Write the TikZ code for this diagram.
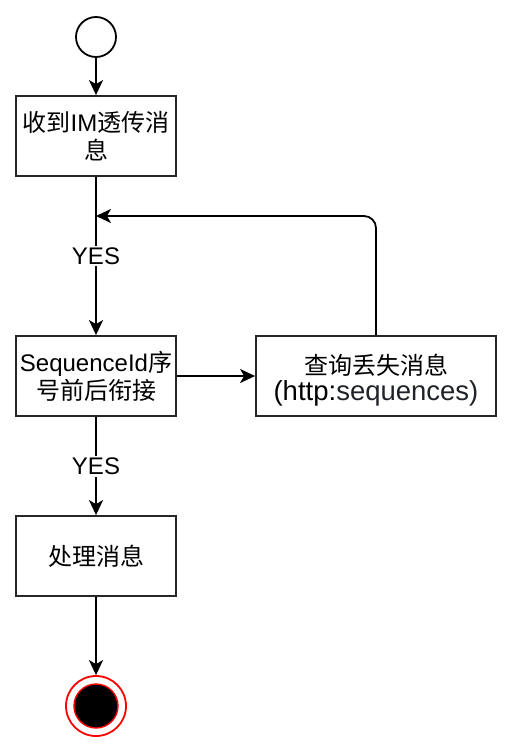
\documentclass[tikz,border=0pt]{standalone}
\usepackage{fontspec}
\setmainfont{Liberation Sans}
\newfontfamily\cjk{Noto Sans CJK SC}
\usetikzlibrary{arrows.meta}
\definecolor{seqgray}{HTML}{1F2329}
\begin{document}
\begin{tikzpicture}[x=1pt,y=-1pt,
  txt/.style={font=\fontsize{24}{28}\selectfont},
  box/.style={txt, draw=black!85, line width=1.8pt, minimum width=160pt, minimum height=80pt, inner sep=0pt, align=center},
  arr/.style={line width=1.8pt, -{Stealth[length=15pt,width=14pt,inset=4pt]}},
  lbl/.style={txt, fill=white, inner sep=2pt}]
\useasboundingbox (0,0) rectangle (514,754);
\node[circle, draw, line width=1.8pt, minimum size=40pt, inner sep=0pt] (start) at (96,37) {};
\node[box] (b1) at (96,136) {{\cjk 收到}IM{\cjk 透传消}\\{\cjk 息}};
\node[box] (b2) at (96,376) {SequenceId{\cjk 序}\\{\cjk 号前后衔接}};
\node[box, minimum width=240pt] (b3) at (376,376) {\rule{0pt}{28pt}{\cjk 查询丢失消息}\\[-2pt]{\fontsize{27.5}{30}\selectfont (http:\textcolor{seqgray}{sequences)}}};
\node[box] (b4) at (96,556) {{\cjk 处理消息}};
\node[circle, draw=red, line width=1.8pt, fill=white, minimum size=60pt, inner sep=0pt] (stop) at (96,706) {};
\node[circle, draw=red, line width=1.4pt, fill=black, minimum size=44pt, inner sep=0pt] (stopin) at (96,706) {};
\coordinate (j) at (96,216);
\draw[arr] (start) -- (b1);
\draw[arr] (b1) -- node[lbl] {YES} (b2);
\draw[arr] (b2) -- (b3);
\draw[arr, rounded corners=12pt] (b3.north) |- (j);
\draw[arr] (b2) -- node[lbl] {YES} (b4);
\draw[arr] (b4) -- (stop);
\end{tikzpicture}
\end{document}
